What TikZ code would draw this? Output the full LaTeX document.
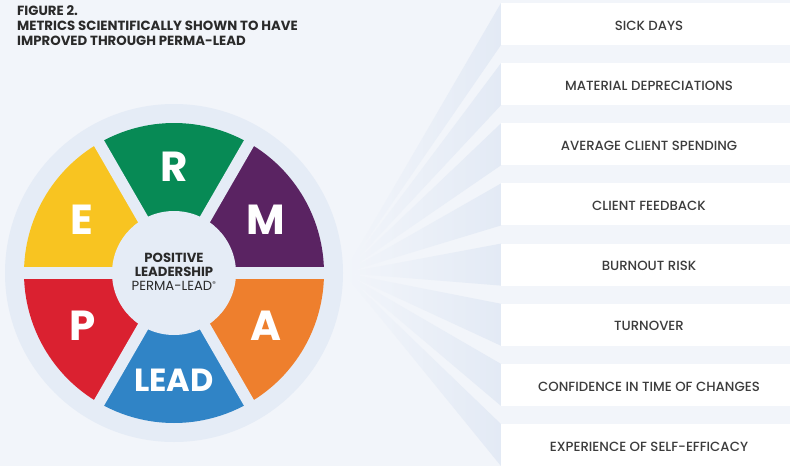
\documentclass[tikz,border=0pt]{standalone}
\usepackage{fontspec}
\setmainfont{Poppins}
\newfontfamily\pmed{Poppins Medium}
\definecolor{bg}{HTML}{F2F5FA}
\definecolor{ring}{HTML}{E5ECF6}
\definecolor{ray}{HTML}{E3EAF5}
\definecolor{dark}{HTML}{2A2A2A}
\definecolor{gray1}{HTML}{3C3C3C}
\definecolor{cR}{HTML}{078A55}
\definecolor{cM}{HTML}{5A2362}
\definecolor{cA}{HTML}{EE7F2D}
\definecolor{cL}{HTML}{3084C6}
\definecolor{cP}{HTML}{DA2130}
\definecolor{cE}{HTML}{F8C421}
\tikzset{
  metric/.style={fill=white, minimum width=289, minimum height=42, inner sep=0pt, text=gray1, font=\pmed\fontsize{13.3}{15}\selectfont},
  letter/.style={text=white, font=\bfseries\fontsize{42}{42}\selectfont, inner sep=0pt},
  titletext/.style={anchor=west, text=dark, font=\bfseries\fontsize{13.3}{15}\selectfont, inner sep=0pt},
}
\begin{document}
\begin{tikzpicture}[x=1pt,y=-1pt]
\fill[bg] (0,0) rectangle (790,466);
\useasboundingbox (0,0) rectangle (790,466);
% title
\node[titletext] (t1) at (17,11) {FIGURE 2.};
\node[titletext] (t2) at (17,26) {METRICS SCIENTIFICALLY SHOWN TO HAVE};
\node[titletext] (t3) at (17,41) {IMPROVED THROUGH PERMA-LEAD};
% rays and metric boxes
\coordinate (apex) at (344,273);
\foreach \t [count=\i from 0] in {SICK DAYS, MATERIAL DEPRECIATIONS, AVERAGE CLIENT SPENDING, CLIENT FEEDBACK, BURNOUT RISK, TURNOVER, CONFIDENCE IN TIME OF CHANGES, EXPERIENCE OF SELF-EFFICACY} {
  \pgfmathsetmacro\ytop{3+60.15*\i}
  \shade[left color=bg, right color=ray] (apex) -- (501,\ytop) -- (501,\ytop+42) -- cycle;
  \fill[white] (501,\ytop) rectangle (790,\ytop+42);
  \node[text=gray1, font=\pmed\fontsize{13.3}{15}\selectfont, inner sep=0pt] (m\i) at (649,\ytop+22.5) {\t};
}
% wheel
\begin{scope}[shift={(174,273)}]
  \fill[ring] (0,0) circle (169);
  \foreach \a/\c in {240/cR, 300/cM, 0/cA, 60/cL, 120/cP, 180/cE} {
    \fill[\c] (\a:150) arc[start angle=\a, end angle=\a+60, radius=150] -- (\a+60:40) -- (\a:40) -- cycle;
  }
  \foreach \a in {0,60,120} {
    \draw[ring, line width=11.5] (\a:155) -- (\a+180:155);
  }
  \fill[ring] (0,0) circle (62);
  \node[letter] (R) at (270:106) {R};
  \node[letter] (M) at (330:106) {M};
  \node[letter] (A) at (30:106) {A};
  \node[letter, font=\bfseries\fontsize{32}{32}\selectfont] (L) at (90:107) {LEAD};
  \node[letter] (P) at (150:106) {P};
  \node[letter] (E) at (210:106) {E};
  \node[align=center, text=dark, inner sep=0pt, font=\fontsize{13.2}{14}\selectfont] (ctr) at (0,-1) {\textbf{POSITIVE}\\\textbf{LEADERSHIP}\\PERMA-LEAD\textsuperscript{\fontsize{7}{7}\selectfont®}};
\end{scope}
\end{tikzpicture}
\end{document}
